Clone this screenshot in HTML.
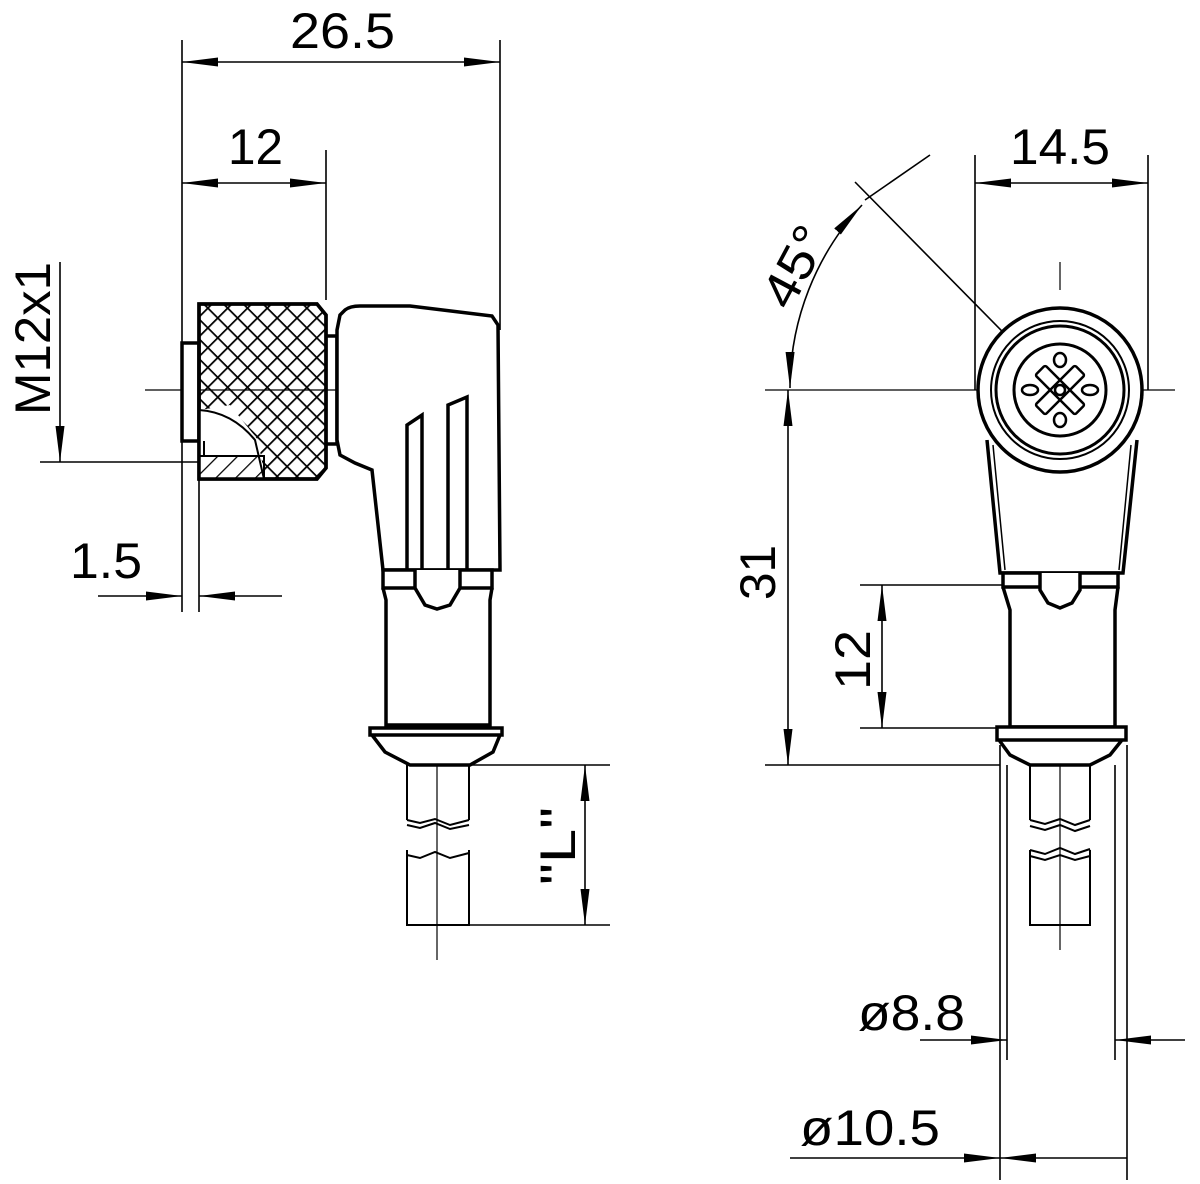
<!DOCTYPE html>
<html><head><meta charset="utf-8"><style>html,body{margin:0;padding:0;background:#fff}svg{display:block}text{font-family:"Liberation Sans",sans-serif;fill:#000}</style></head><body>
<svg width="1200" height="1184" viewBox="0 0 1200 1184" xmlns="http://www.w3.org/2000/svg">
<defs>
<marker id="a" viewBox="0 0 36 10" refX="36" refY="5" markerWidth="36" markerHeight="10" markerUnits="userSpaceOnUse" orient="auto-start-reverse"><path d="M0,0.5 L36,5 L0,9.5z" fill="#000"/></marker>
<pattern id="kn" width="14" height="14" patternUnits="userSpaceOnUse" patternTransform="rotate(45)"><path d="M0,0H14M0,0V14" stroke="#000" stroke-width="3.5"/></pattern>
<pattern id="ht" width="14" height="14" patternUnits="userSpaceOnUse" patternTransform="rotate(45)"><path d="M0,0V14" stroke="#000" stroke-width="2.5"/></pattern>
</defs>
<g stroke="#000" fill="none" stroke-width="1.6">
<path d="M182,40V612M199,470V612M326,150V300M500,40V330"/>
<path d="M182,62H500" marker-start="url(#a)" marker-end="url(#a)"/>
<path d="M182,183H326" marker-start="url(#a)" marker-end="url(#a)"/>
<path d="M60,262V462" marker-end="url(#a)"/>
<path d="M40,462H199"/>
<path d="M98,596H182" marker-end="url(#a)"/>
<path d="M282,596H199" marker-end="url(#a)"/>
<path d="M145,390H348M375,390H378M405,390H485" stroke-width="1.2"/>
<path d="M437,327V370M437,433V495M437,550V580M437,600V720M437,765V960" stroke-width="1.2"/>
<path d="M470,765H610M470,925H610"/>
<path d="M585,765V925" marker-start="url(#a)" marker-end="url(#a)"/>
</g>
<g stroke="#000" stroke-width="3.5">
<path d="M182,343H199V441H182z" fill="#fff"/>
<path d="M199,304H317L326,315V468L317,479H199z" fill="url(#kn)"/>
<path d="M200,410L230,405L258,440L265,478H200z" fill="#fff" stroke="none"/>
<path d="M199,410Q232,412 255,440L264,479" fill="none" stroke-width="2"/>
<path d="M199,456H264V479H199z" fill="url(#ht)" stroke-width="2"/>
<path d="M204,441V456H262" fill="none" stroke-width="2"/>
<path d="M199,304H317L326,315V468L317,479H199z" fill="none"/>
<path d="M326,336H337V444H326" fill="none"/>
<path d="M345,310Q350,306 360,306L410,306L492,316L498,325L500,570H383L372,470L355,463L340,455L337,440V330L340,315z" fill="#fff"/>
<path d="M407,570V425L422,415V570M448,570V405L467,397V570" fill="none"/>
<path d="M383,588L386,600V725H490V600L492,588" fill="#fff"/>
<path d="M383,570H492V588H383z" fill="#fff"/>
<path d="M415,570V588L425,605L437,609L450,605L460,588V570" fill="#fff"/>
<path d="M370,728H502V735H370zM372,735L385,752L410,765H470L493,752L500,735" fill="#fff"/>
<path d="M407,765V820M469,765V820M407,850V925H469V850M407,820L420,823L435,819L450,825L469,820M407,855L420,858L435,852L450,858L469,853M407,825L420,828L435,823L450,829L469,825" fill="none" stroke-width="2"/>
</g>
<g stroke="#000" fill="none" stroke-width="1.6">
<path d="M975,155V390M1148,155V390"/>
<path d="M975,183H1148" marker-start="url(#a)" marker-end="url(#a)"/>
<path d="M765,390H985M1140,390H1175" stroke-width="1.2"/>
<path d="M1060,262V290M1060,480V560M1060,600V700M1060,765V950" stroke-width="1.2"/>
<path d="M855,182L1060,390"/>
<path d="M930,155L865,200"/>
<path d="M790,388A270,270 0 0 1 862,205" marker-start="url(#a)" marker-end="url(#a)"/>
<path d="M788,390V765" marker-start="url(#a)" marker-end="url(#a)"/>
<path d="M765,765H1000"/>
<path d="M860,585H1020M860,728H1000"/>
<path d="M882,585V728" marker-start="url(#a)" marker-end="url(#a)"/>
<path d="M1007,765V1060M1115,765V1060M1000,745V1180M1127,745V1180"/>
<path d="M920,1040H1007" marker-end="url(#a)"/>
<path d="M1185,1040H1115" marker-end="url(#a)"/>
<path d="M790,1158H1000" marker-end="url(#a)"/>
<path d="M1127,1158H1000" marker-end="url(#a)"/>
</g>
<g stroke="#000" fill="none" stroke-width="3.5">
<path d="M987,440L1000,573H1123L1137,440" fill="#fff"/>
<path d="M993,445L1005,570M1131,445L1119,570" stroke-width="1.5"/>
<circle cx="1060" cy="390" r="82" fill="#fff"/>
<circle cx="1060" cy="390" r="69" stroke-width="2"/>
<circle cx="1060" cy="390" r="64" stroke-width="3"/>
<circle cx="1060" cy="390" r="46" stroke-width="3"/>
<g stroke-width="2.5">
<rect x="1032" y="383" width="56" height="14" rx="2" transform="rotate(45 1060 390)"/>
<rect x="1032" y="383" width="56" height="14" rx="2" transform="rotate(-45 1060 390)"/>
<ellipse cx="1060" cy="360" rx="6" ry="7"/><ellipse cx="1060" cy="420" rx="6" ry="7"/>
<ellipse cx="1030" cy="390" rx="8" ry="5"/><ellipse cx="1090" cy="390" rx="8" ry="5"/>
<circle cx="1060" cy="390" r="5"/>
</g>
<path d="M1003,587L1010,610V727H1115V610L1118,587" fill="#fff"/>
<path d="M1003,573H1118V587H1003z" fill="#fff"/>
<path d="M1040,573V590L1048,603L1060,608L1072,603L1080,590V573" fill="#fff"/>
<path d="M997,727H1126V740H997zM999,740L1010,755L1030,765H1090L1110,755L1122,740" fill="#fff"/>
<path d="M1030,765V820M1090,765V820M1030,850V925H1090V850M1030,820L1045,824L1060,819L1075,825L1090,820M1030,826L1045,830L1060,825L1075,831L1090,826M1030,850L1045,854L1060,848L1075,854L1090,849M1030,856L1045,860L1060,855L1075,860L1090,856" stroke-width="2"/>
</g>
<g font-size="50" lengthAdjust="spacingAndGlyphs">
<text x="290" y="48" textLength="105" lengthAdjust="spacingAndGlyphs">26.5</text>
<text x="228" y="164" textLength="55" lengthAdjust="spacingAndGlyphs">12</text>
<text x="70" y="578" textLength="72" lengthAdjust="spacingAndGlyphs">1.5</text>
<text transform="translate(50,415) rotate(-90)" textLength="153" lengthAdjust="spacingAndGlyphs">M12x1</text>
<text transform="translate(575,885) rotate(-90)" textLength="78" lengthAdjust="spacingAndGlyphs">"L"</text>
<text x="1010" y="164" textLength="100" lengthAdjust="spacingAndGlyphs">14.5</text>
<text transform="translate(790,312) rotate(-62)" textLength="85" lengthAdjust="spacingAndGlyphs">45°</text>
<text transform="translate(775,600) rotate(-90)" textLength="55" lengthAdjust="spacingAndGlyphs">31</text>
<text transform="translate(870,690) rotate(-90)" textLength="60" lengthAdjust="spacingAndGlyphs">12</text>
<text x="858" y="1030" textLength="107" lengthAdjust="spacingAndGlyphs">ø8.8</text>
<text x="800" y="1145" textLength="140" lengthAdjust="spacingAndGlyphs">ø10.5</text>
</g>
</svg>
</body></html>
